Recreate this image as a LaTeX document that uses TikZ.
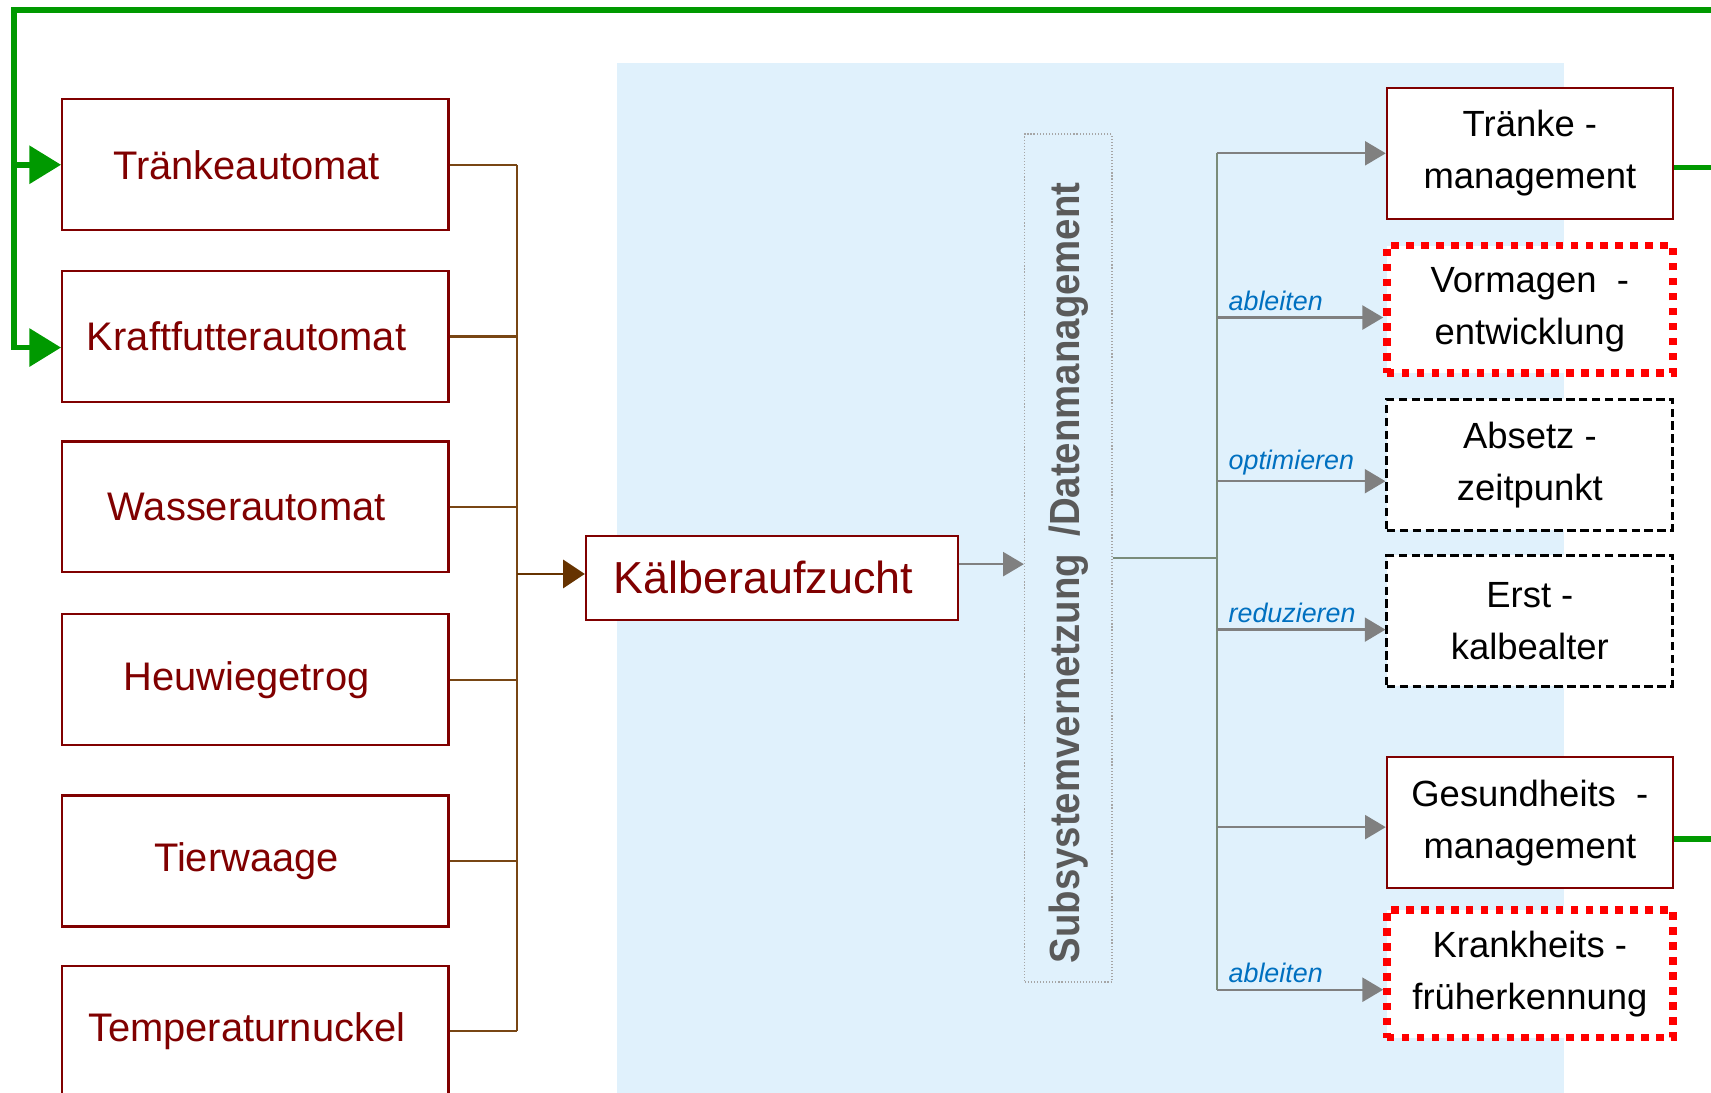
\documentclass[tikz,border=0pt]{standalone}
\usepackage{fontspec}
\setmainfont{Liberation Sans}
\usetikzlibrary{arrows.meta, positioning, calc}

\definecolor{boxred}{RGB}{128,0,0}
\definecolor{feedbrown}{RGB}{120,70,20}
\definecolor{feeddark}{RGB}{102,51,0}
\definecolor{loopgreen}{RGB}{0,153,0}
\definecolor{bgblue}{RGB}{224,241,252}
\definecolor{linkgray}{RGB}{128,128,128}
\definecolor{trunkgray}{RGB}{122,140,122}
\definecolor{verbblue}{RGB}{0,112,192}
\definecolor{subgray}{RGB}{90,90,90}

\tikzset{
  srcbox/.style={draw=boxred, line width=0.6pt, fill=white, text=boxred,
    minimum width=35.4mm, minimum height=12mm, inner sep=0pt,
    execute at end node=\hspace*{1.6mm},
    font=\fontsize{10.4}{12}\selectfont},
  goalbox/.style={fill=white, minimum width=26.2mm, minimum height=12mm,
    inner sep=0pt, align=center, font=\fontsize{9.5}{13.6}\selectfont},
  mgmtbox/.style={goalbox, draw=boxred, line width=0.6pt},
  newgoal/.style={goalbox, draw=red, line width=0.69mm,
    dash pattern=on 0.69mm off 0.68mm, minimum height=11.7mm},
  oldgoal/.style={goalbox, draw=black, line width=0.75pt,
    dash pattern=on 0.78mm off 0.4mm},
  feed/.style={draw=feedbrown, line width=0.6pt},
  feedarrow/.style={draw=feeddark, line width=0.6pt,
    -{Triangle[length=2mm, width=2.6mm]}},
  greenline/.style={draw=loopgreen, line width=1.5pt},
  greenarrow/.style={greenline, -{Triangle[length=2.9mm, width=3.4mm]}},
  grayarrow/.style={draw=linkgray, line width=0.6pt,
    -{Triangle[length=1.9mm, width=2.2mm]}},
  trunk/.style={draw=trunkgray, line width=0.6pt},
  verb/.style={text=verbblue, inner sep=1.5pt, xshift=0.5mm,
    font=\fontsize{7}{8}\selectfont\itshape}
}

\begin{document}
\begin{tikzpicture}[x=0.1mm, y=-0.1mm]
    \useasboundingbox (0,0) rectangle (1568,1001);
    \clip (0,0) rectangle (1568,1001);

    % Draw background of the system
    \fill[bgblue] (565,58) rectangle (1433,1010);

    % Draw the devices
    \node[srcbox] (tak) at (234,151) {Tränkeautomat};
    \node[srcbox] (kfa) at (234,308.5) {Kraftfutterautomat};
    \node[srcbox] (wa) at (234,464.5) {Wasserautomat};
    \node[srcbox] (hwt) at (234,623) {Heuwiegetrog};
    \node[srcbox] (tw) at (234,789) {Tierwaage};
    \node[srcbox] (tn) at (234,945) {Temperaturnuckel};

    % Draw the rearing box and the data layer
    \node[srcbox, minimum width=34.1mm, minimum height=7.7mm,
      font=\fontsize{11.7}{13}\selectfont] (kalb) at (707.5,529.5) {Kälberaufzucht};
    \node[draw=gray!70, dash pattern=on 0.3pt off 0.5pt, line width=0.4pt, fill=bgblue,
      minimum width=8mm, minimum height=77.7mm, inner sep=0pt, text=subgray,
      font=\fontsize{11}{13}\selectfont\bfseries] (sub) at (979,511.5)
      {\rotatebox{90}{\scalebox{0.91}[1]{Subsystemvernetzung\hspace{0.45em}/Datenmanagement}\hspace*{2.7mm}}};

    % Draw the goals
    \node[mgmtbox] (tm) at (1402,140.5) {Tränke -\\management};
    \node[newgoal] (vm) at (1402,283.5) {Vormagen\ \ -\\entwicklung};
    \node[oldgoal] (ab) at (1402,426) {Absetz -\\zeitpunkt};
    \node[oldgoal] (ek) at (1402,569) {Erst -\\kalbealter};
    \node[mgmtbox] (gm) at (1402,754) {Gesundheits\ \ -\\management};
    \node[newgoal] (kf) at (1402,892.5) {Krankheits -\\früherkennung};

    % Draw the feed lines of the devices
    \coordinate (bus) at (474,526);
    \foreach \n in {tak, kfa, wa, hwt, tw, tn} {
        \draw[feed] (\n.east) -- (\n.east -| bus);
    }
    \draw[feed] (tak.east -| bus) -- (tn.east -| bus);
    \draw[feedarrow] (bus) -- (bus -| kalb.west);

    % Draw the data flow
    \coordinate (kout) at ([yshift=1.25mm]kalb.east);
    \draw[grayarrow] (kout) -- (kout -| sub.west);
    \coordinate (ttop) at (1115,140);
    \coordinate (tbot) at (1115,907);
    \draw[trunk] (sub.east) -- (sub.east -| ttop);
    \draw[trunk] (ttop) -- (tbot);
    \foreach \n/\dy in {tm/0, vm/-0.75, ab/-1.5, ek/-0.8, gm/-0.4, kf/-1.45} {
        \coordinate (\n-in) at ([yshift=\dy mm]\n.west);
        \draw[grayarrow] (\n-in -| ttop) -- (\n-in);
    }
    \node[verb, above right] at (vm-in -| ttop) {ableiten};
    \node[verb, above right] at (ab-in -| ttop) {optimieren};
    \node[verb, above right] at (ek-in -| ttop) {reduzieren};
    \node[verb, above right] at (kf-in -| ttop) {ableiten};

    % Draw the feedback loop
    \coordinate (gtop) at (1568,9);
    \coordinate (gcorner) at (13,9);
    \coordinate (kfa-in) at ([yshift=-1mm]kfa.west);
    \draw[greenarrow] (gtop) -- (gcorner) |- (kfa-in);
    \draw[greenarrow] (gcorner |- tak.west) -- (tak.west);
    \coordinate (tm-out) at ([yshift=-1.3mm]tm.east);
    \coordinate (gm-out) at ([yshift=-1.5mm]gm.east);
    \draw[greenline] (tm-out) -- (tm-out -| gtop);
    \draw[greenline] (gm-out) -- (gm-out -| gtop);
\end{tikzpicture}
\end{document}
